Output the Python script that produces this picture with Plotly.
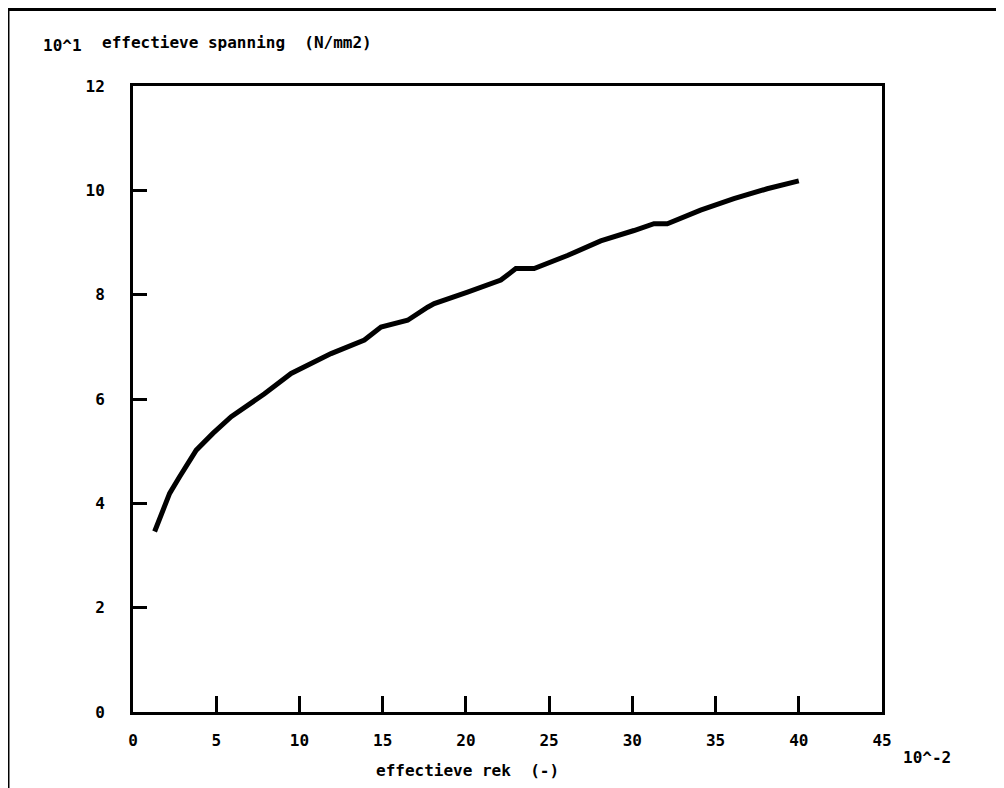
import plotly.graph_objects as go

# Data (x in 10^-2, y in 10^1 N/mm2)
rek = [1.3, 2.2, 2.8, 3.8, 4.8, 5.9, 7.9, 9.5, 11.9, 13.9, 14.9, 16.5, 17.7, 18.1,
       20.1, 22.1, 23.0, 24.1, 26.1, 28.1, 30.1, 31.3, 32.1, 34.1, 36.1, 38.1, 40.0]
spanning = [3.46, 4.19, 4.51, 5.02, 5.34, 5.66, 6.10, 6.49, 6.87, 7.13, 7.38, 7.51, 7.76, 7.83,
            8.05, 8.28, 8.50, 8.50, 8.75, 9.03, 9.23, 9.36, 9.36, 9.62, 9.84, 10.03, 10.18]

x_ticks = [0, 5, 10, 15, 20, 25, 30, 35, 40, 45]
y_ticks = [0, 2, 4, 6, 8, 10, 12]

x_title = "effectieve rek  (-)"
y_title = "effectieve spanning  (N/mm2)"
x_exp = "10^-2"
y_exp = "10^1"

FONT = "DejaVu Sans Mono"

fig = go.Figure()
fig.add_trace(go.Scatter(x=rek, y=spanning, mode="lines",
                         line=dict(color="black", width=5), showlegend=False,
                         hoverinfo="skip"))

axis_common = dict(showline=True, linecolor="black", linewidth=3, mirror=True,
                   ticks="inside", tickcolor="black", tickwidth=3,
                   showgrid=False, zeroline=False,
                   tickfont=dict(family=FONT, size=16, color="black", weight="bold"))

fig.update_xaxes(range=[0, 45], tickvals=x_ticks, ticktext=[str(v) for v in x_ticks],
                 ticklen=16, ticklabelstandoff=12, **axis_common)
fig.update_yaxes(range=[0, 12], tickvals=y_ticks, ticktext=[str(v) for v in y_ticks],
                 ticklen=14, ticklabelstandoff=22, **axis_common)

ann_font = dict(family=FONT, size=16, color="black", weight="bold")
fig.add_annotation(text=x_title, xref="paper", yref="paper", x=0.446, y=-0.0927,
                   xanchor="center", yanchor="middle", showarrow=False, font=ann_font)
fig.add_annotation(text=y_title, xref="paper", yref="paper", x=-0.044, y=1.070,
                   xanchor="left", yanchor="middle", showarrow=False, font=ann_font)
fig.add_annotation(text=y_exp, xref="paper", yref="paper", x=-0.0935, y=1.064,
                   xanchor="center", yanchor="middle", showarrow=False, font=ann_font)
fig.add_annotation(text=x_exp, xref="paper", yref="paper", x=1.060, y=-0.0719,
                   xanchor="center", yanchor="middle", showarrow=False, font=ann_font)

# outer frame (left and top edges as in the reference)
fig.add_shape(type="line", xref="paper", yref="paper", x0=-0.1669, x1=-0.1669,
              y0=1.123, y1=-0.13, line=dict(color="black", width=3))
fig.add_shape(type="line", xref="paper", yref="paper", x0=-0.1669, x1=1.17,
              y0=1.123, y1=1.123, line=dict(color="black", width=4))

fig.update_layout(width=996, height=780,
                  margin=dict(l=125, r=122, t=78, b=76),
                  paper_bgcolor="white", plot_bgcolor="white")

fig.write_html("out.html")
